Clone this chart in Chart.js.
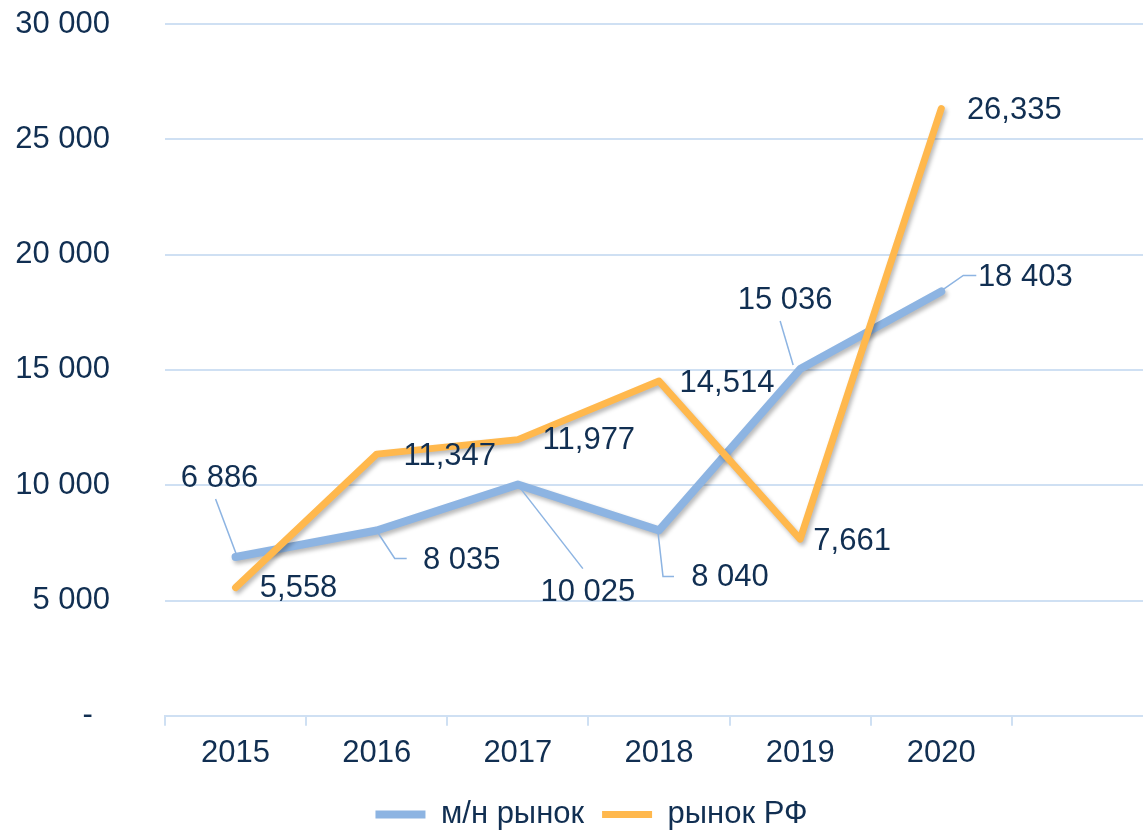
<!DOCTYPE html>
<html>
<head>
  <title>м/н рынок и рынок РФ</title>
  <script src="https://cdn.jsdelivr.net/npm/chart.js"></script>
  <style>
    html, body { margin: 0; background: #fff; overflow: hidden; }
    /* plot runs slightly past the right edge, like the original */
    #wrap { width: 1153px; height: 832px; }
  </style>
</head>
<body>
<div id="wrap"><canvas id="marketChart"></canvas></div>
<script>
  // data
  const years = ['2015', '2016', '2017', '2018', '2019', '2020', ''];
  const intlMarket = [6886, 8035, 10025, 8040, 15036, 18403];   // м/н рынок
  const rfMarket = [5558, 11347, 11977, 14514, 7661, 26335];    // рынок РФ
  const yMin = 0, yMax = 30000, yStep = 5000;

  const TEXT = '#112f52';
  const FONT = 'Arial, "Liberation Sans", sans-serif';
  const GRID = '#cfe0f3';
  const BLUE = '#8db4e2';
  const ORANGE = '#ffb84d';

  const withSpace = v => String(v).replace(/\B(?=(\d{3})+(?!\d))/g, ' ');
  const withComma = v => String(v).replace(/\B(?=(\d{3})+(?!\d))/g, ',');

  // label placement, pixel offsets from each point (text centre + leader polyline)
  const intlLabelPos = [
    { dx: -16, dy: -79, leader: [[1, -2], [-20, -58]] },
    { dx: 85, dy: 30, leader: [[1, 2], [18, 28], [30, 28]] },
    { dx: 70, dy: 108, leader: [[2, 3], [65, 84]] },
    { dx: 71, dy: 47, leader: [[-1, 2], [4, 46], [15, 46]] },
    { dx: -15, dy: -69, leader: [[-7, -4], [-20, -48]] },
    { dx: 84, dy: -14, leader: [[2, -2], [22, -16], [35, -16]] }
  ];
  const rfLabelPos = [
    { dx: 63, dy: 1 }, { dx: 73, dy: 2 }, { dx: 71, dy: 1 },
    { dx: 68, dy: 2 }, { dx: 52, dy: 2 }, { dx: 73, dy: 2 }
  ];

  const lineShadow = {
    id: 'lineShadow',
    beforeDatasetDraw(chart) {
      const c = chart.ctx;
      c.save();
      c.shadowColor = 'rgba(0,0,0,0.28)';
      c.shadowBlur = 4;
      c.shadowOffsetX = 2;
      c.shadowOffsetY = 3;
    },
    afterDatasetDraw(chart) { chart.ctx.restore(); }
  };

  // legend sits a little right of centre in the original
  const legendShift = {
    id: 'legendShift',
    afterLayout(chart) {
      chart.legend.left += 15;
      chart.legend.right += 15;
    }
  };

  const valueLabels = {
    id: 'valueLabels',
    afterDatasetsDraw(chart) {
      const c = chart.ctx;
      const sets = [
        { meta: chart.getDatasetMeta(0), pos: intlLabelPos, fmt: withSpace },
        { meta: chart.getDatasetMeta(1), pos: rfLabelPos, fmt: withComma }
      ];
      c.save();
      sets.forEach(s => {
        s.meta.data.forEach((pt, i) => {
          const p = s.pos[i];
          const v = chart.data.datasets[s.meta.index].data[i];
          if (p.leader) {
            c.beginPath();
            c.strokeStyle = BLUE;
            c.lineWidth = 1.5;
            p.leader.forEach(([lx, ly], k) => {
              if (k === 0) c.moveTo(pt.x + lx, pt.y + ly);
              else c.lineTo(pt.x + lx, pt.y + ly);
            });
            c.stroke();
          }
          c.fillStyle = TEXT;
          c.font = '31px ' + FONT;
          c.textAlign = 'center';
          c.textBaseline = 'middle';
          c.fillText(s.fmt(v), pt.x + p.dx, pt.y + p.dy);
        });
      });
      c.restore();
    }
  };

  new Chart(document.getElementById('marketChart'), {
    type: 'line',
    data: {
      labels: years,
      datasets: [
        {
          label: 'м/н рынок',
          data: intlMarket,
          borderColor: BLUE,
          backgroundColor: BLUE,
          borderWidth: 8,
          pointRadius: 0,
          borderJoinStyle: 'round',
          borderCapStyle: 'round',
          order: 1
        },
        {
          label: 'рынок РФ',
          data: rfMarket,
          borderColor: ORANGE,
          backgroundColor: ORANGE,
          borderWidth: 7,
          pointRadius: 0,
          borderJoinStyle: 'round',
          borderCapStyle: 'round',
          order: 0
        }
      ]
    },
    options: {
      responsive: true,
      maintainAspectRatio: false,
      animation: false,
      layout: { padding: { top: 24, right: 0, bottom: -8, left: 0 } },
      plugins: {
        tooltip: { enabled: false },
        legend: {
          position: 'bottom',
          labels: {
            usePointStyle: true,
            pointStyle: 'line',
            pointStyleWidth: 50,
            padding: 18,
            color: TEXT,
            font: { size: 31, family: FONT },
            sort: (a, b) => a.datasetIndex - b.datasetIndex
          }
        }
      },
      scales: {
        x: {
          offset: true,
          grid: {
            offset: true,
            drawOnChartArea: false,
            drawTicks: true,
            tickLength: 10,
            color: GRID,
            lineWidth: 2
          },
          border: { color: GRID, width: 2 },
          ticks: { color: TEXT, font: { size: 31, family: FONT }, padding: 9, maxRotation: 0, autoSkip: false },
          afterFit: s => {
            s.paddingLeft = 0;
            s.paddingRight = 0;
          }
        },
        y: {
          min: yMin,
          max: yMax,
          grid: { color: GRID, lineWidth: 2, drawTicks: false },
          border: { display: false },
          ticks: {
            stepSize: yStep,
            padding: 55,
            color: TEXT,
            font: { size: 31, family: FONT },
            callback: v => v === 0 ? '-  ' : withSpace(v)
          },
          afterFit: s => {
            s.width = 165;
            s.paddingTop = 18;
            s.paddingBottom = 18;
          }
        }
      }
    },
    plugins: [lineShadow, legendShift, valueLabels]
  });
</script>
</body>
</html>
